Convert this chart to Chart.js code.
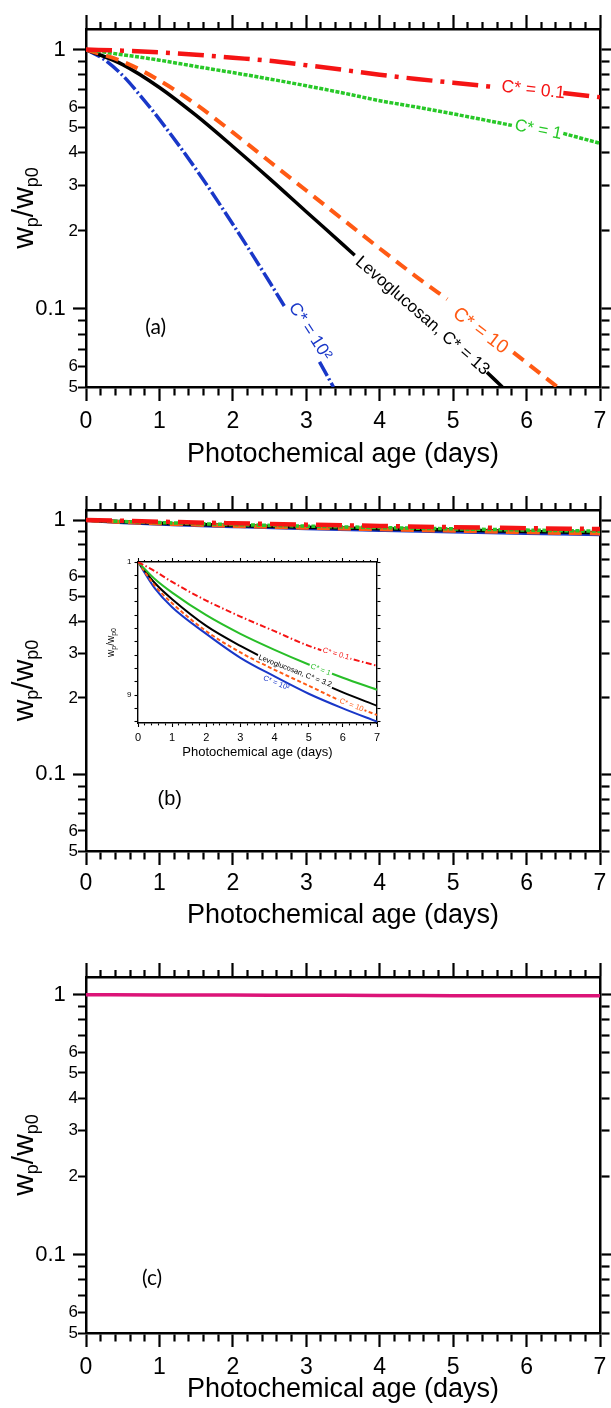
<!DOCTYPE html>
<html>
<head>
<meta charset="utf-8">
<script src="https://cdn.jsdelivr.net/npm/chart.js@4.4.1/dist/chart.umd.min.js"></script>
<style>
  html, body { margin: 0; padding: 0; background: #fff; }
  #wrap { position: relative; width: 611px; height: 1408px; overflow: hidden; background: #fff; }
  canvas { position: absolute; left: 0; }
</style>
</head>
<body>
<div id="wrap">
  <canvas id="chartA" width="611" height="472" style="top:0px"></canvas>
  <canvas id="chartB" width="611" height="470" style="top:472px"></canvas>
  <canvas id="chartC" width="611" height="466" style="top:942px"></canvas>
  <canvas id="chartInset" width="300" height="220" style="left:95px;top:545px"></canvas>
</div>
<script>
// axis ticks
var xTicks = [0,0.2,0.4,0.6,0.8,1,1.2,1.4,1.6,1.8,2,2.2,2.4,2.6,2.8,3,3.2,3.4,3.6,3.8,
              4,4.2,4.4,4.6,4.8,5,5.2,5.4,5.6,5.8,6,6.2,6.4,6.6,6.8,7];
var yTicks = [1, 0.9, 0.8, 0.7, 0.6, 0.5, 0.4, 0.3, 0.2, 0.1, 0.09, 0.08, 0.07, 0.06, 0.05];
var yTickText = ['1  ', '', '', '', '6', '5', '4', '3', '2', '0.1  ', '', '', '', '6', '5'];
var yMajor = [1, 0.1];
var insetYTicks = [1, 0.99, 0.98, 0.97, 0.96, 0.95, 0.94, 0.93, 0.92, 0.91, 0.9, 0.89, 0.88];
var insetYText = ['1', '', '', '', '', '', '', '', '', '', '9', '', ''];

// panel (a): photochemical age (days) vs wp/wp0, null = break left for the curve label
var aRedDays    = [0, 0.5, 1, 1.5, 2, 2.5, 3, 3.5, 4, 4.5, 5, 5.6, 6.0, 6.5, 7];
var aRedVals    = [1, 0.99, 0.975, 0.955, 0.93, 0.905, 0.87, 0.835, 0.80, 0.77, 0.745, 0.715, null, 0.68, 0.655];
var aGreenDays  = [0, 0.5, 1, 1.5, 2, 2.5, 3, 3.5, 4, 4.5, 5, 5.8, 6.1, 6.5, 7];
var aGreenVals  = [1, 0.955, 0.91, 0.86, 0.815, 0.77, 0.725, 0.68, 0.635, 0.6, 0.565, 0.51, null, 0.475, 0.435];
var aOrangeDays = [0, 0.5, 1, 1.5, 2, 2.5, 3, 3.5, 4, 4.5, 4.92, 5.4, 5.82, 6.42];
var aOrangeVals = [1, 0.899, 0.760, 0.614, 0.479, 0.370, 0.286, 0.221, 0.171, 0.133, 0.109, null, 0.068, 0.050];
var aBlackDays  = [0, 0.5, 1, 1.5, 2, 2.5, 3, 3.5, 3.66, 4.5, 5.46, 5.67];
var aBlackVals  = [1, 0.875, 0.714, 0.557, 0.423, 0.318, 0.237, 0.177, 0.161, null, 0.057, 0.050];
var aBlueDays   = [0, 0.25, 0.5, 0.75, 1, 1.5, 2, 2.5, 2.7, 2.95, 3.18, 3.37];
var aBlueVals   = [1, 0.915, 0.794, 0.659, 0.538, 0.345, 0.212, 0.127, 0.1026, null, 0.0625, 0.050];

// panel (b) and its inset
var bDays   = [0, 0.5, 1, 2, 3, 4, 5, 6, 7];
var bRed    = [1, 0.993, 0.985, 0.971, 0.959, 0.948, 0.937, 0.929, 0.922];
var bGreen  = [1, 0.987, 0.977, 0.960, 0.946, 0.934, 0.923, 0.913, 0.904];
var bBlack  = [1, 0.984, 0.972, 0.952, 0.937, 0.924, 0.913, 0.902, 0.892];
var bOrange = [1, 0.982, 0.969, 0.948, 0.932, 0.919, 0.907, 0.895, 0.885];
var bBlue   = [1, 0.980, 0.966, 0.946, 0.928, 0.914, 0.901, 0.890, 0.880];

// panel (c)
var cDays    = [0, 1, 2, 3, 4, 5, 6, 7];
var cMagenta = [1, 0.998, 0.997, 0.995, 0.994, 0.992, 0.991, 0.99];

var FONT = '"Liberation Sans", Arial, Helvetica, sans-serif';
Chart.defaults.font.family = FONT;
Chart.defaults.color = '#000';

var RED = 'rgb(245,20,20)', GREEN = 'rgb(40,200,40)', ORANGE = 'rgb(255,90,20)',
    BLUE = 'rgb(25,55,200)', BLACK = '#000', MAGENTA = 'rgb(220,20,120)';

function isWhole(v) { return Math.abs(v - Math.round(v)) < 1e-6; }
function isMajorY(v) { return yMajor.some(function (m) { return Math.abs(m - v) < 1e-9; }); }
function pts(days, vals) { return days.map(function (d, i) { return {x: d, y: vals[i]}; }); }

function line(data, color, width, dash) {
    return {
        data: data, borderColor: color, borderWidth: width, borderDash: dash || [],
        pointRadius: 0, fill: false, cubicInterpolationMode: 'monotone', spanGaps: false,
        xAxisID: 'x', yAxisID: 'y'
    };
}

function noPad(s) { s.paddingLeft = 0; s.paddingRight = 0; s.paddingTop = 0; s.paddingBottom = 0; }

// ticks point outward on all four sides, minor ones are cut short with a dash
function xAxis(position, p) {
    var bottom = position === 'bottom';
    return {
        type: 'linear', position: position, min: 0, max: 7,
        afterBuildTicks: function (s) { s.ticks = p.xTicks.map(function (v) { return {value: v}; }); },
        afterFit: function (s) { s.height = bottom ? p.xHeight : p.topHeight; noPad(s); },
        border: {display: true, color: '#000', width: p.frame},
        grid: {
            drawOnChartArea: false, drawTicks: true, tickLength: p.xTick, tickWidth: p.tickW, tickColor: '#000',
            tickBorderDash: function (c) {
                if (!c.tick || isWhole(c.tick.value)) return [];
                return bottom ? [p.xMinor, 80] : [0, p.xTick - p.xMinor, p.xMinor, 80];
            }
        },
        ticks: {
            autoSkip: false, maxRotation: 0, minRotation: 0, padding: p.labelPad, color: '#000',
            font: {size: p.xFont},
            callback: function (v) { return bottom && isWhole(v) ? String(Math.round(v)) : ''; }
        },
        title: bottom ? {
            display: true, text: 'Photochemical age (days)', color: '#000',
            font: {size: p.titleFont}, padding: {top: 0, bottom: p.titlePad}
        } : {display: false}
    };
}

function yAxis(position, p) {
    var left = position === 'left';
    return {
        type: p.yType, position: position, min: p.yMin, max: p.yMax,
        afterBuildTicks: function (s) { s.ticks = p.yTicks.map(function (v) { return {value: v}; }); },
        afterFit: function (s) { s.width = left ? p.yWidth : p.rightWidth; noPad(s); },
        border: {display: true, color: '#000', width: p.frame},
        grid: {
            drawOnChartArea: false, drawTicks: true, tickLength: p.yTick, tickWidth: p.tickW, tickColor: '#000',
            tickBorderDash: function (c) {
                if (!c.tick || p.yIsMajor(c.tick.value)) return [];
                return left ? [0, p.yTick - p.yMinor, p.yMinor, 80] : [p.yMinor, 80];
            }
        },
        ticks: {
            autoSkip: false, padding: p.yLabelPad, color: '#000',
            font: function (c) {
                var big = c.tick && p.yIsMajor(c.tick.value);
                return {size: big ? p.yFontBig : p.yFontSmall};
            },
            callback: function (v, i) { return left ? p.yText[i] : ''; }
        }
    };
}

function drawYTitle(ctx, x, y, big, small, drop) {
    var parts = [['w', big, 0], ['p', small, drop], ['/', big, 0], ['w', big, 0], ['p0', small, drop]];
    ctx.save();
    ctx.translate(x, y);
    ctx.rotate(-Math.PI / 2);
    ctx.textAlign = 'left';
    ctx.textBaseline = 'alphabetic';
    ctx.fillStyle = '#000';
    var total = 0;
    parts.forEach(function (q) { ctx.font = q[1] + 'px ' + FONT; total += ctx.measureText(q[0]).width; });
    var cx = -total / 2;
    parts.forEach(function (q) {
        ctx.font = q[1] + 'px ' + FONT;
        ctx.fillText(q[0], cx, q[2]);
        cx += ctx.measureText(q[0]).width;
    });
    ctx.restore();
}

function textPlugin(labels, p) {
    return {
        id: 'panelText',
        afterDatasetsDraw: function (chart) {
            var ctx = chart.ctx, xs = chart.scales.x, ys = chart.scales.y;
            labels.forEach(function (l) {
                var px = xs.getPixelForValue(l.x), py = ys.getPixelForValue(l.y);
                ctx.save();
                ctx.translate(px, py);
                ctx.rotate(l.angle * Math.PI / 180);
                ctx.font = l.size + 'px ' + (l.family || FONT);
                ctx.textAlign = 'center';
                ctx.textBaseline = 'middle';
                if (l.knockout) {
                    var w = ctx.measureText(l.text).width;
                    ctx.fillStyle = '#fff';
                    ctx.fillRect(-w / 2 - 1.5, -l.size * 0.5, w + 3, l.size);
                }
                ctx.fillStyle = l.color;
                ctx.fillText(l.text, 0, 0);
                ctx.restore();
            });
            var a = chart.chartArea;
            drawYTitle(ctx, p.yTitleX, (a.top + a.bottom) / 2, p.yTitleBig, p.yTitleSmall, p.yTitleDrop);
        }
    };
}

function buildChart(id, p, datasets, labels) {
    return new Chart(document.getElementById(id), {
        type: 'line',
        data: {datasets: datasets},
        options: {
            responsive: false, animation: false, devicePixelRatio: 1, events: [],
            layout: {padding: {top: p.padTop, left: 0, right: 0, bottom: 0}},
            plugins: {legend: {display: false}, tooltip: {enabled: false}},
            scales: {x: xAxis('bottom', p), x2: xAxis('top', p), y: yAxis('left', p), y2: yAxis('right', p)}
        },
        plugins: [textPlugin(labels, p)]
    });
}

var mainBase = {
    xTicks: xTicks, yTicks: yTicks, yText: yTickText, yIsMajor: isMajorY, yType: 'logarithmic', yMin: 0.05,
    topHeight: 14, yWidth: 86, rightWidth: 11, frame: 2.5, tickW: 2.2,
    xTick: 14, xMinor: 7, yTick: 13, yMinor: 8, xFont: 23, titleFont: 27,
    yLabelPad: -5, yFontBig: 22, yFontSmall: 17,
    yTitleX: 33, yTitleBig: 30, yTitleSmall: 18, yTitleDrop: 5
};
function panel(extra) { return Object.assign({}, mainBase, extra); }

// (a)
buildChart('chartA', panel({padTop: 15, xHeight: 85, labelPad: 7, titlePad: 1, yMax: 1.2}), [
    line(pts(aRedDays, aRedVals), RED, 4.5, [26, 8, 4, 8]),
    line(pts(aGreenDays, aGreenVals), GREEN, 3.5, [4, 1.5]),
    line(pts(aOrangeDays, aOrangeVals), ORANGE, 4, [13, 8]),
    line(pts(aBlackDays, aBlackVals), BLACK, 3.5),
    line(pts(aBlueDays, aBlueVals), BLUE, 3.5, [16, 3, 2, 3])
], [
    {text: 'C* = 0.1', x: 6.09, y: 0.698, angle: 6, size: 17.5, color: RED},
    {text: 'C* = 1', x: 6.16, y: 0.490, angle: 11, size: 17, color: GREEN},
    {text: 'C* = 10', x: 5.37, y: 0.0823, angle: 37, size: 19, color: ORANGE},
    {text: 'Levoglucosan, C* = 13', x: 4.58, y: 0.094, angle: 41, size: 17, color: BLACK},
    {text: 'C* = 10²', x: 3.05, y: 0.0818, angle: 57, size: 17.5, color: BLUE},
    {text: '(a)', x: 0.95, y: 0.0853, angle: 0, size: 21, color: BLACK, family: 'Lato, sans-serif'}
]);

// (b)
buildChart('chartB', panel({padTop: 24, xHeight: 91, labelPad: 5, titlePad: 10, yMax: 1.095}), [
    line(pts(bDays, bRed), RED, 4.5, [26, 8, 4, 8]),
    line(pts(bDays, bGreen), GREEN, 3.5, [4, 1.5]),
    line(pts(bDays, bOrange), ORANGE, 4, [13, 8]),
    line(pts(bDays, bBlack), BLACK, 3.5),
    line(pts(bDays, bBlue), BLUE, 4)
], [
    {text: '(b)', x: 1.14, y: 0.0798, angle: 0, size: 20, color: BLACK}
]);

// (c)
buildChart('chartC', panel({padTop: 21, xHeight: 75, labelPad: 7, titlePad: 2, yMax: 1.17}), [
    line(pts(cDays, cMagenta), MAGENTA, 3.5)
], [
    {text: '(c)', x: 0.9, y: 0.0814, angle: 0, size: 21, color: BLACK, family: 'Lato, sans-serif'}
]);

// inset of (b), linear y
var insetP = {
    xTicks: xTicks, yTicks: insetYTicks, yText: insetYText, yType: 'linear', yMin: 0.879, yMax: 1.0,
    yIsMajor: function () { return true; },
    padTop: 9, topHeight: 8, xHeight: 42, yWidth: 43, rightWidth: 18, frame: 1.4, tickW: 1.1,
    xTick: 4, xMinor: 2, yTick: 3.5, yMinor: 3.5, xFont: 11, titleFont: 13, labelPad: 4.4, titlePad: 5,
    yLabelPad: 3, yFontBig: 8, yFontSmall: 8,
    yTitleX: 19, yTitleBig: 10, yTitleSmall: 7, yTitleDrop: 2
};
buildChart('chartInset', insetP, [
    line(pts(bDays, bRed), RED, 2, [6, 2.5, 1.5, 2.5]),
    line(pts(bDays, bGreen), 'rgb(40,190,40)', 2),
    line(pts(bDays, bOrange), ORANGE, 2, [4, 2.5]),
    line(pts(bDays, bBlack), BLACK, 2),
    line(pts(bDays, bBlue), BLUE, 2)
], [
    {text: 'C* = 0.1', x: 5.8, y: 0.931, angle: 16, size: 7.5, color: RED, knockout: true},
    {text: 'C* = 1', x: 5.35, y: 0.919, angle: 21, size: 7.5, color: 'rgb(40,190,40)', knockout: true},
    {text: 'Levoglucosan, C* = 3.2', x: 4.6, y: 0.918, angle: 21, size: 7.5, color: BLACK, knockout: true},
    {text: 'C* = 10', x: 6.25, y: 0.8925, angle: 21, size: 7.5, color: ORANGE, knockout: true},
    {text: 'C* = 10²', x: 4.05, y: 0.909, angle: 22, size: 7.5, color: BLUE}
]);
</script>
</body>
</html>
